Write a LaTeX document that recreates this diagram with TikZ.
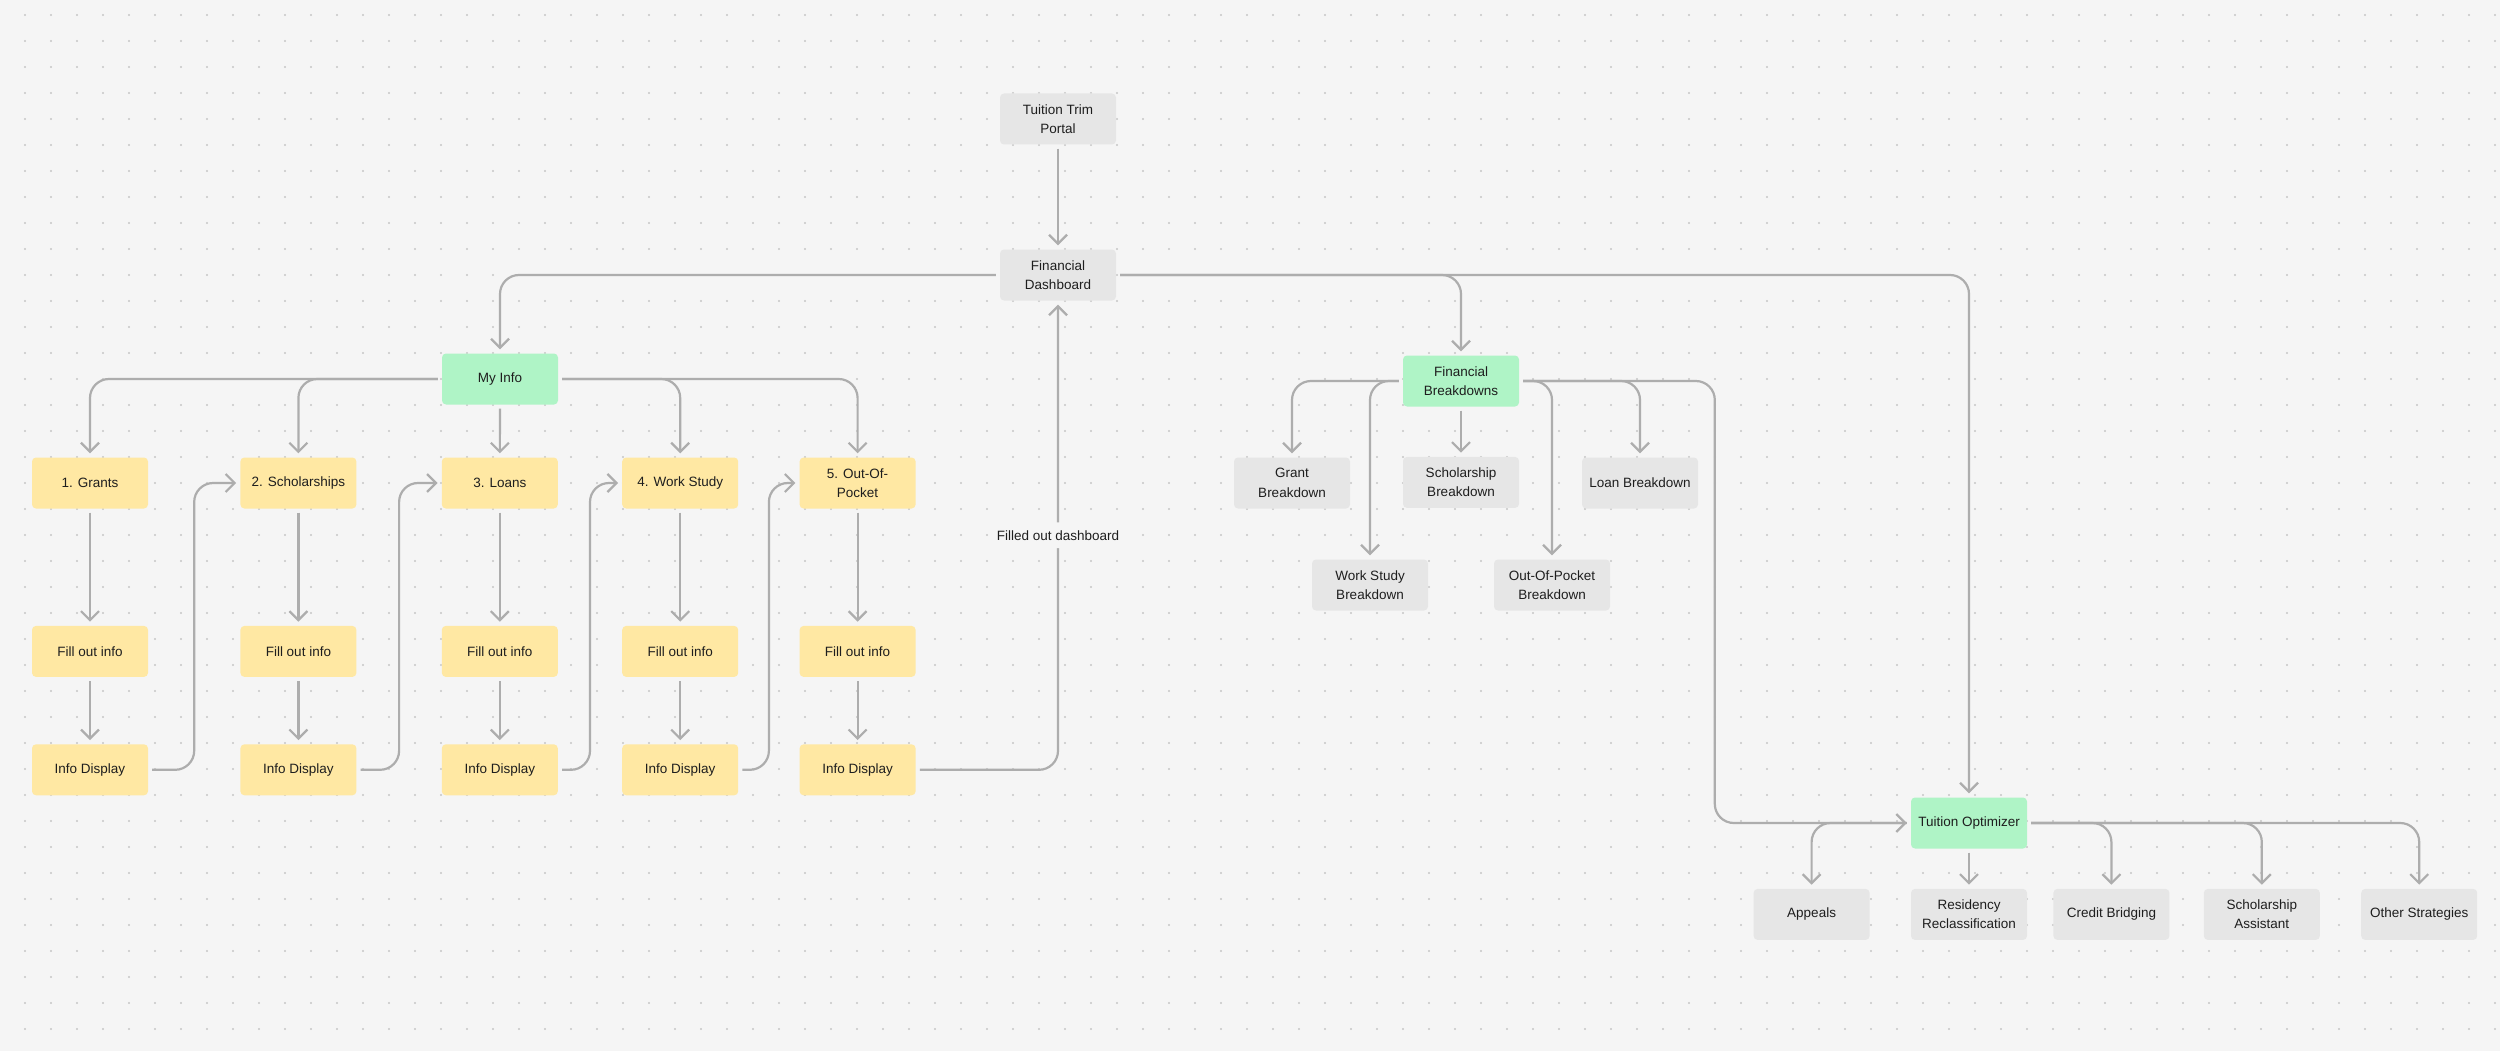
\documentclass[tikz,border=0pt]{standalone}
\usepackage{fontspec}
\setmainfont{Liberation Sans}
\usepackage{xcolor}
\usetikzlibrary{arrows.meta, positioning, calc}
\definecolor{canvasbg}{HTML}{F5F5F5}
\definecolor{gridgray}{HTML}{C6C6C6}
\definecolor{stickyyellow}{HTML}{FFE8A3}
\definecolor{stickygreen}{HTML}{AFF4C6}
\definecolor{stickygray}{HTML}{E6E6E6}
\definecolor{linkgray}{HTML}{ADADAD}
\definecolor{inkdark}{HTML}{1E1E1E}

\begin{document}
\begin{tikzpicture}[
  x=1pt, y=1pt,
  font=\fontsize{13.5}{19.5}\selectfont,
  card/.style={
    rounded corners=4pt,
    minimum width=116pt,
    minimum height=51pt,
    inner sep=0pt,
    align=center,
    text=inkdark
  },
  stepcard/.style={card, fill=stickyyellow},
  hubcard/.style={card, fill=stickygreen},
  leafcard/.style={card, fill=stickygray},
  link/.style={
    draw=linkgray,
    line width=2.2pt,
    rounded corners=19pt,
    shorten <=4pt,
    shorten >=4pt,
    -{Straight Barb[length=9pt, width=18pt]}
  },
  linknote/.style={fill=canvasbg, inner xsep=2pt, inner ysep=8pt, text=inkdark}
]

% dotted canvas
\fill[canvasbg] (0,0) rectangle (2500,-1051);
\foreach \i in {0,...,95}
  \foreach \j in {0,...,39}
    \fill[gridgray] (25+26*\i,-15-26*\j) circle (1.1pt);

\node[leafcard] (portal) at (1058,-119) {Tuition Trim\\Portal};
\node[leafcard] (dash) at (1058,-275) {Financial\\Dashboard};

% my info columns
\node[hubcard] (myinfo) at (500,-379) {My Info};

\node[stepcard] (grants) at (90,-483) {1. Grants};
\node[stepcard, right=92pt of grants] (schol) {2. Scholarships};
\node[stepcard, right=85pt of schol] (loans) {3. Loans};
\node[stepcard, right=64pt of loans] (work) {4. Work Study};
\node[stepcard, right=61pt of work] (pocket) {5. Out-Of-\\Pocket};

\node[stepcard, below=117pt of grants] (fill1) {Fill out info};
\node[stepcard, below=117pt of schol] (fill2) {Fill out info};
\node[stepcard, below=117pt of loans] (fill3) {Fill out info};
\node[stepcard, below=117pt of work] (fill4) {Fill out info};
\node[stepcard, below=117pt of pocket] (fill5) {Fill out info};

\node[stepcard, below=67pt of fill1] (disp1) {Info Display};
\node[stepcard, below=67pt of fill2] (disp2) {Info Display};
\node[stepcard, below=67pt of fill3] (disp3) {Info Display};
\node[stepcard, below=67pt of fill4] (disp4) {Info Display};
\node[stepcard, below=67pt of fill5] (disp5) {Info Display};

% breakdowns
\node[hubcard] (fbreak) at (1461,-381) {Financial\\Breakdowns};
\node[leafcard] (grantbd) at (1292,-483) {Grant\\Breakdown};
\node[leafcard, below=50pt of fbreak] (scholbd) {Scholarship\\Breakdown};
\node[leafcard] (loanbd) at (1640,-483) {Loan Breakdown};
\node[leafcard] (workbd) at (1370,-585) {Work Study\\Breakdown};
\node[leafcard] (pocketbd) at (1552,-585) {Out-Of-Pocket\\Breakdown};

% optimizer
\node[hubcard] (topt) at (1969,-823) {Tuition Optimizer};
\node[leafcard, below=40pt of topt] (resid) {Residency\\Reclassification};
\node[leafcard, left=41pt of resid] (appeals) {Appeals};
\node[leafcard, right=26pt of resid] (credit) {Credit Bridging};
\node[leafcard, right=34pt of credit] (sasst) {Scholarship\\Assistant};
\node[leafcard, right=41pt of sasst] (other) {Other Strategies};

\coordinate (hop1) at ($(grants.east)!0.5!(schol.west)$);
\coordinate (hop2) at ($(schol.east)!0.5!(loans.west)$);
\coordinate (hop3) at ($(loans.east)!0.5!(work.west)$);
\coordinate (hop4) at ($(work.east)!0.5!(pocket.west)$);
\coordinate (fbturn) at ([xshift=-196pt]topt.west);

\draw[link] (portal) -- (dash);
\draw[link] (dash.west) -| (myinfo.north);
\draw[link] (dash.east) -| (fbreak.north);
\draw[link] (dash.east) -| (topt.north);

\draw[link] (myinfo.west) -| (grants.north);
\draw[link] (myinfo.west) -| (schol.north);
\draw[link] (myinfo) -- (loans);
\draw[link] (myinfo.east) -| (work.north);
\draw[link] (myinfo.east) -| (pocket.north);

\foreach \k in {1,...,5} {
  \draw[link] (fill\k) -- (disp\k);
}
\draw[link] (grants) -- (fill1);
\draw[link] (schol) -- (fill2);
\draw[link] (loans) -- (fill3);
\draw[link] (work) -- (fill4);
\draw[link] (pocket) -- (fill5);

\draw[link] (disp1.east) -| (hop1) -- (schol.west);
\draw[link] (disp2.east) -| (hop2) -- (loans.west);
\draw[link] (disp3.east) -| (hop3) -- (work.west);
\draw[link] (disp4.east) -| (hop4) -- (pocket.west);
\draw[link] (disp5.east) -| node[linknote, pos=0.75] (dashnote) {Filled out dashboard} (dash.south);

\draw[link] (fbreak.west) -| (grantbd.north);
\draw[link] (fbreak.west) -| (workbd.north);
\draw[link] (fbreak) -- (scholbd);
\draw[link] (fbreak.east) -| (pocketbd.north);
\draw[link] (fbreak.east) -| (loanbd.north);
\draw[link] (fbreak.east) -| (fbturn) -- (topt.west);

\draw[link] (topt.west) -| (appeals.north);
\draw[link] (topt) -- (resid);
\draw[link] (topt.east) -| (credit.north);
\draw[link] (topt.east) -| (sasst.north);
\draw[link] (topt.east) -| (other.north);

\end{tikzpicture}
\end{document}
